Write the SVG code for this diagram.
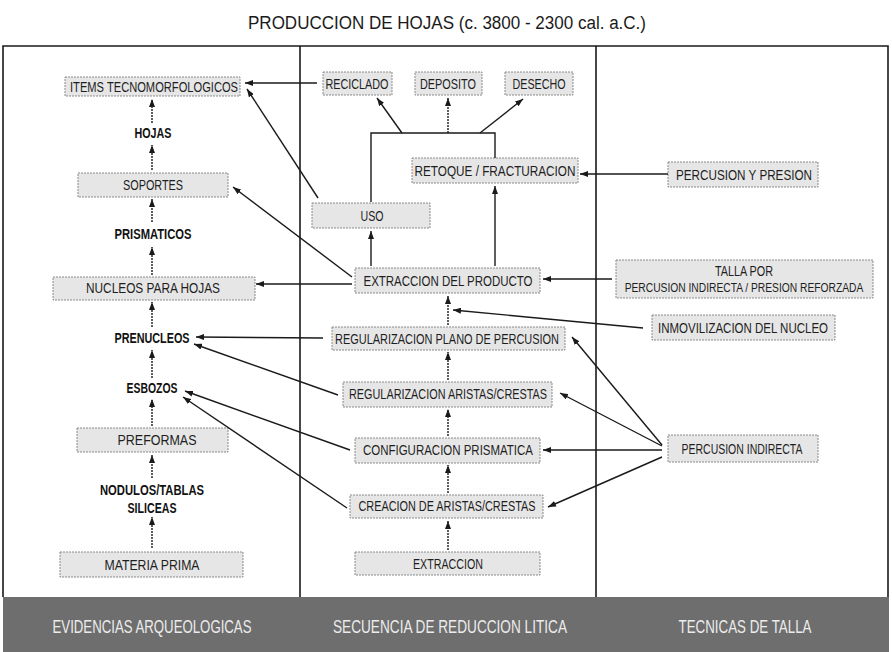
<svg xmlns="http://www.w3.org/2000/svg" width="892" height="652" viewBox="0 0 892 652">
<defs>
<marker id="ah" viewBox="0 0 8 6" refX="8" refY="3" markerWidth="8" markerHeight="6" markerUnits="userSpaceOnUse" orient="auto"><path d="M0,0 L8,3 L0,6 z" fill="#1a1a1a"/></marker>
<style>
.bx{fill:#e6e6e6;stroke:#8a8a8a;stroke-width:1;stroke-dasharray:2 1}
.t{font-family:"Liberation Sans",Arial,sans-serif;font-size:14px;fill:#1e1e1e;text-anchor:middle;dominant-baseline:central}
.lb{font-family:"Liberation Sans",Arial,sans-serif;font-size:14px;fill:#111;text-anchor:middle;dominant-baseline:central;font-weight:bold}
.ft{font-family:"Liberation Sans",Arial,sans-serif;font-size:19px;fill:#ececec;text-anchor:middle;dominant-baseline:central}
.frame{stroke:#1a1a1a;stroke-width:1.6;fill:none}
.c{stroke:#1a1a1a;stroke-width:1.4;fill:none;marker-end:url(#ah)}
.cd{stroke:#1a1a1a;stroke-width:1.4;fill:none;stroke-dasharray:2 1;marker-end:url(#ah)}
.l{stroke:#1a1a1a;stroke-width:1.4;fill:none}
</style>
</defs>
<rect width="892" height="652" fill="#ffffff"/>
<text x="447" y="23" textLength="398" lengthAdjust="spacingAndGlyphs" style="font-family:'Liberation Sans',Arial,sans-serif;font-size:18px;fill:#1a1a1a;text-anchor:middle;dominant-baseline:central">PRODUCCION DE HOJAS (c. 3800 - 2300 cal. a.C.)</text>
<g id="frame">
<path class="frame" d="M3,597 V46 H888 V597"/>
<line class="frame" x1="300" y1="46" x2="300" y2="597"/>
<line class="frame" x1="596" y1="46" x2="596" y2="597"/>
<rect x="3" y="597" width="886" height="55" fill="#6e6e6e"/>
</g>
<g id="footer">
<text class="ft" x="152" y="626" textLength="199" lengthAdjust="spacingAndGlyphs">EVIDENCIAS ARQUEOLOGICAS</text>
<text class="ft" x="450" y="626" textLength="234" lengthAdjust="spacingAndGlyphs">SECUENCIA DE REDUCCION LITICA</text>
<text class="ft" x="745" y="626" textLength="133" lengthAdjust="spacingAndGlyphs">TECNICAS DE TALLA</text>
</g>
<g id="n-items"><rect class="bx" x="65" y="77" width="175" height="19"/><text class="t" x="154" y="87" textLength="168" lengthAdjust="spacingAndGlyphs">ITEMS TECNOMORFOLOGICOS</text></g>
<g id="n-hojas"><text class="lb" x="153" y="133" textLength="37" lengthAdjust="spacingAndGlyphs">HOJAS</text></g>
<g id="n-soportes"><rect class="bx" x="78" y="173" width="150" height="24"/><text class="t" x="153" y="185" textLength="60" lengthAdjust="spacingAndGlyphs">SOPORTES</text></g>
<g id="n-prismaticos"><text class="lb" x="153" y="234" textLength="77" lengthAdjust="spacingAndGlyphs">PRISMATICOS</text></g>
<g id="n-nucleos"><rect class="bx" x="53" y="277" width="202" height="23"/><text class="t" x="153" y="288" textLength="134" lengthAdjust="spacingAndGlyphs">NUCLEOS PARA HOJAS</text></g>
<g id="n-prenucleos"><text class="lb" x="152" y="338" textLength="75" lengthAdjust="spacingAndGlyphs">PRENUCLEOS</text></g>
<g id="n-esbozos"><text class="lb" x="152" y="388" textLength="51" lengthAdjust="spacingAndGlyphs">ESBOZOS</text></g>
<g id="n-preformas"><rect class="bx" x="77" y="428" width="151" height="24"/><text class="t" x="157" y="440" textLength="79" lengthAdjust="spacingAndGlyphs">PREFORMAS</text></g>
<g id="n-nodulos"><text class="lb" x="152" y="490" textLength="104" lengthAdjust="spacingAndGlyphs">NODULOS/TABLAS</text><text class="lb" x="152" y="508" textLength="49" lengthAdjust="spacingAndGlyphs">SILICEAS</text></g>
<g id="n-materia"><rect class="bx" x="60" y="552" width="183" height="25"/><text class="t" x="152" y="565" textLength="95" lengthAdjust="spacingAndGlyphs">MATERIA PRIMA</text></g>
<g id="n-reciclado"><rect class="bx" x="323" y="72" width="69" height="23"/><text class="t" x="357" y="84" textLength="63" lengthAdjust="spacingAndGlyphs">RECICLADO</text></g>
<g id="n-deposito"><rect class="bx" x="415" y="72" width="67" height="23"/><text class="t" x="448" y="84" textLength="56" lengthAdjust="spacingAndGlyphs">DEPOSITO</text></g>
<g id="n-desecho"><rect class="bx" x="505" y="72" width="68" height="23"/><text class="t" x="539" y="84" textLength="53" lengthAdjust="spacingAndGlyphs">DESECHO</text></g>
<g id="n-retoque"><rect class="bx" x="412" y="158" width="166" height="25"/><text class="t" x="495" y="171" textLength="161" lengthAdjust="spacingAndGlyphs">RETOQUE / FRACTURACION</text></g>
<g id="n-uso"><rect class="bx" x="312" y="203" width="118" height="25"/><text class="t" x="372" y="216" textLength="23" lengthAdjust="spacingAndGlyphs">USO</text></g>
<g id="n-extprod"><rect class="bx" x="355" y="268" width="185" height="25"/><text class="t" x="448" y="281" textLength="169" lengthAdjust="spacingAndGlyphs">EXTRACCION DEL PRODUCTO</text></g>
<g id="n-regplano"><rect class="bx" x="332" y="327" width="233" height="23"/><text class="t" x="447" y="339" textLength="224" lengthAdjust="spacingAndGlyphs">REGULARIZACION PLANO DE PERCUSION</text></g>
<g id="n-regaristas"><rect class="bx" x="343" y="382" width="209" height="25"/><text class="t" x="448" y="394" textLength="198" lengthAdjust="spacingAndGlyphs">REGULARIZACION ARISTAS/CRESTAS</text></g>
<g id="n-config"><rect class="bx" x="355" y="438" width="185" height="25"/><text class="t" x="448" y="450" textLength="170" lengthAdjust="spacingAndGlyphs">CONFIGURACION PRISMATICA</text></g>
<g id="n-creacion"><rect class="bx" x="350" y="495" width="193" height="23"/><text class="t" x="447" y="506" textLength="177" lengthAdjust="spacingAndGlyphs">CREACION DE ARISTAS/CRESTAS</text></g>
<g id="n-extraccion"><rect class="bx" x="355" y="552" width="185" height="23"/><text class="t" x="448" y="564" textLength="70" lengthAdjust="spacingAndGlyphs">EXTRACCION</text></g>
<g id="n-percpres"><rect class="bx" x="668" y="162" width="150" height="25"/><text class="t" x="744" y="175" textLength="136" lengthAdjust="spacingAndGlyphs">PERCUSION Y PRESION</text></g>
<g id="n-talla"><rect class="bx" x="616" y="260" width="257" height="38"/><text class="t" x="744" y="271" textLength="58" lengthAdjust="spacingAndGlyphs">TALLA POR</text><text class="t" transform="translate(744,287) scale(0.79,1)" x="0" y="0" style="font-size:13px">PERCUSION INDIRECTA / PRESION REFORZADA</text></g>
<g id="n-inmov"><rect class="bx" x="652" y="315" width="183" height="25"/><text class="t" x="743" y="328" textLength="170" lengthAdjust="spacingAndGlyphs">INMOVILIZACION DEL NUCLEO</text></g>
<g id="n-percind"><rect class="bx" x="668" y="435" width="150" height="27"/><text class="t" x="742" y="449" textLength="121" lengthAdjust="spacingAndGlyphs">PERCUSION INDIRECTA</text></g>
<g id="connectors">
<line class="cd" x1="152" y1="123" x2="152" y2="99"/>
<line class="cd" x1="152" y1="170" x2="152" y2="145"/>
<line class="cd" x1="152" y1="222" x2="152" y2="199"/>
<line class="cd" x1="152" y1="275" x2="152" y2="247"/>
<line class="cd" x1="152" y1="327" x2="152" y2="302"/>
<line class="cd" x1="152" y1="378" x2="152" y2="350"/>
<line class="cd" x1="152" y1="426" x2="152" y2="399"/>
<line class="cd" x1="152" y1="478" x2="152" y2="455"/>
<line class="cd" x1="152" y1="548" x2="152" y2="517"/>
<line class="cd" x1="448" y1="550" x2="448" y2="521"/>
<line class="cd" x1="448" y1="493" x2="448" y2="465"/>
<line class="cd" x1="448" y1="436" x2="448" y2="409"/>
<line class="cd" x1="448" y1="380" x2="448" y2="352"/>
<line class="cd" x1="448" y1="325" x2="448" y2="296"/>
<line class="c" x1="371" y1="266" x2="371" y2="231"/>
<line class="c" x1="495" y1="266" x2="495" y2="186"/>
<path class="l" d="M371,202 V133 H495 V158"/>
<line class="c" x1="402" y1="133" x2="377" y2="98"/>
<line class="cd" x1="448" y1="133" x2="448" y2="98"/>
<line class="c" x1="480" y1="133" x2="523" y2="99"/>
<line class="c" x1="317" y1="83" x2="245" y2="83"/>
<line class="c" x1="318" y1="198" x2="247" y2="89"/>
<line class="c" x1="352" y1="277" x2="233" y2="187"/>
<line class="c" x1="352" y1="284" x2="256" y2="284"/>
<line class="c" x1="323" y1="338" x2="196" y2="337"/>
<line class="c" x1="338" y1="395" x2="194" y2="344"/>
<line class="c" x1="350" y1="450" x2="185" y2="391"/>
<line class="c" x1="347" y1="508" x2="183" y2="397"/>
<line class="c" x1="668" y1="174" x2="580" y2="174"/>
<line class="c" x1="612" y1="279" x2="543" y2="279"/>
<line class="c" x1="643" y1="328" x2="453" y2="310"/>
<line class="c" x1="662" y1="445" x2="572" y2="337"/>
<line class="c" x1="662" y1="446" x2="560" y2="393"/>
<line class="c" x1="662" y1="450" x2="543" y2="450"/>
<line class="c" x1="662" y1="457" x2="548" y2="507"/>
</g>
</svg>
